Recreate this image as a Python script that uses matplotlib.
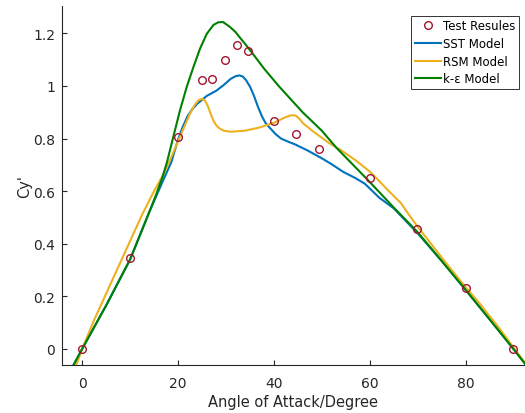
import matplotlib
matplotlib.use('Agg')
import matplotlib.pyplot as plt
from matplotlib.ticker import FormatStrFormatter

plt.rcParams['font.family'] = ['DejaVu Sans']

# Resultados experimentais
test_x = [0, 10, 20, 25, 27, 29.8, 32.3, 34.7, 40, 44.6, 49.5, 60, 69.8, 80, 90]
test_y = [0, 0.346, 0.806, 1.023, 1.027, 1.099, 1.156, 1.134, 0.867, 0.817, 0.760, 0.650, 0.456, 0.230, 0]

# Curvas
sst_x = [-2.2, 0, 5, 10, 14, 17, 18.6, 20, 21, 22, 23, 24, 26, 28, 29.5, 31, 32, 32.8, 33.5, 34.2,
         35, 35.8, 36.7, 37.5, 38.3, 39.2, 40.3, 41.5, 43, 44.4, 47, 50, 52, 54.5, 57, 59, 62, 65,
         70, 75, 80, 85, 90, 93]
sst_y = [-0.075, 0, 0.165, 0.34, 0.52, 0.645, 0.71, 0.795, 0.845, 0.885, 0.912, 0.932, 0.962, 0.982,
         1.003, 1.027, 1.037, 1.04, 1.036, 1.022, 0.998, 0.965, 0.92, 0.885, 0.858, 0.84, 0.818, 0.80,
         0.788, 0.778, 0.755, 0.725, 0.703, 0.673, 0.65, 0.628, 0.575, 0.535, 0.44, 0.335, 0.225,
         0.113, 0, -0.07]

rsm_x = [-2, 0, 2.5, 5, 7.5, 10, 12.5, 15, 17, 18.5, 20.5, 22.5, 23.5, 24.3, 25, 25.6, 26.2, 26.8,
         27.4, 28, 28.7, 29.5, 31, 34, 37, 40, 41.5, 42.5, 43.5, 44.5, 45.3, 46.1, 48, 51.5, 54, 57,
         60, 62, 64, 66.5, 68, 70, 73, 76, 78, 80, 83, 85, 87, 90, 92.5]
rsm_y = [-0.1, 0, 0.11, 0.21, 0.31, 0.41, 0.51, 0.60, 0.665, 0.725, 0.81, 0.895, 0.928, 0.946, 0.951,
         0.945, 0.925, 0.895, 0.868, 0.85, 0.838, 0.83, 0.826, 0.83, 0.842, 0.86, 0.873, 0.882, 0.888,
         0.888, 0.876, 0.858, 0.83, 0.783, 0.756, 0.718, 0.675, 0.638, 0.60, 0.555, 0.515, 0.465, 0.395,
         0.325, 0.28, 0.235, 0.172, 0.125, 0.08, 0.005, -0.055]

ke_x = [-2.2, 0, 5, 10, 14, 15.5, 16.7, 17.7, 19, 20.4, 21.8, 23.2, 24.6, 26, 27.4, 28.4, 29.4,
        30.8, 32, 33, 34, 35.5, 38, 41, 43.5, 46, 50, 53, 56, 60, 65, 70, 75, 80, 85, 90, 93]
ke_y = [-0.075, 0, 0.165, 0.34, 0.52, 0.59, 0.65, 0.71, 0.805, 0.906, 0.995, 1.071, 1.142, 1.198,
        1.232, 1.242, 1.243, 1.225, 1.205, 1.182, 1.16, 1.125, 1.065, 1.0, 0.95, 0.90, 0.83, 0.766,
        0.71, 0.635, 0.538, 0.444, 0.335, 0.225, 0.113, 0, -0.07]

fig = plt.figure(figsize=(5.25, 4.14), dpi=100)
ax = fig.add_axes([62 / 525, 48 / 414, 463 / 525, 359 / 414])

ax.plot(test_x, test_y, 'o', mfc='none', mec='#A2142F', ms=5.5, mew=1.0, label='Test Resules', zorder=5)
ax.plot(sst_x, sst_y, color='#0072BD', lw=1.5, label='SST Model')
ax.plot(rsm_x, rsm_y, color='#EDB120', lw=1.5, label='RSM Model')
ax.plot(ke_x, ke_y, color='#008000', lw=1.5, label='k-ε Model')

ax.set_xlim(-4.2, 92.4)
ax.set_ylim(-0.061, 1.304)
ax.set_xticks([0, 20, 40, 60, 80])
ax.set_yticks([0, 0.2, 0.4, 0.6, 0.8, 1.0, 1.2])
ax.yaxis.set_major_formatter(FormatStrFormatter('%g'))
ax.tick_params(direction='in', length=3.5, width=0.8, labelsize=10, colors='#262626')
ax.tick_params(axis='x', pad=8)
ax.tick_params(axis='y', pad=5)
for s in ['top', 'right']:
    ax.spines[s].set_visible(False)
for s in ['left', 'bottom']:
    ax.spines[s].set_color('#262626')
    ax.spines[s].set_linewidth(0.8)

ax.set_xlabel('Angle of Attack/Degree', fontsize=10.5, color='#262626', labelpad=3)
ax.set_ylabel("Cy'", fontsize=10.5, color='#262626', labelpad=1)

leg = ax.legend(loc='upper right', bbox_to_anchor=(0.987, 0.973), borderaxespad=0, fontsize=8.5,
                frameon=True, fancybox=False, edgecolor='black', handlelength=2.2,
                handletextpad=0.2, borderpad=0.3, labelspacing=0.4)
leg.get_frame().set_linewidth(0.7)

fig.savefig('out.png', dpi=100)
